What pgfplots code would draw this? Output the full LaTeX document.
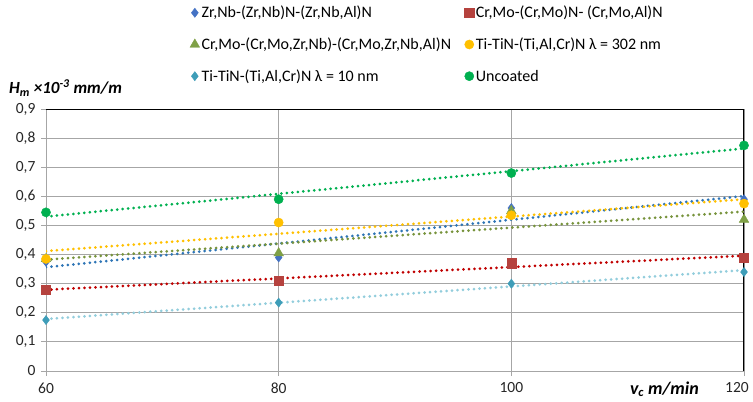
\documentclass[border=0pt]{standalone}
\usepackage{fontspec}
\setmainfont{Carlito}
\usepackage{pgfplots}
\pgfplotsset{compat=1.18}
\definecolor{cBlue}{HTML}{4472C4}
\definecolor{tBlue}{HTML}{2E75B6}
\definecolor{cRed}{HTML}{B5423E}
\definecolor{tRed}{HTML}{C00000}
\definecolor{cOlive}{HTML}{7FA046}
\definecolor{tOlive}{HTML}{77933C}
\definecolor{cYel}{HTML}{FFC000}
\definecolor{cTeal}{HTML}{3E9DB8}
\definecolor{tTeal}{HTML}{92CDDC}
\definecolor{cGreen}{HTML}{00B050}
\definecolor{gridc}{HTML}{A6A6A6}
\begin{document}
\begin{tikzpicture}
\begin{axis}[
  name=ax,
  scale only axis, width=698pt, height=262pt,
  xmin=60, xmax=120, ymin=0, ymax=0.9,
  xtick={60,80,100},
  extra x ticks={120},
  extra x tick style={grid=major, xticklabel style={xshift=-7pt}},
  ytick={0,0.1,0.2,0.3,0.4,0.5,0.6,0.7,0.8,0.9},
  grid=major, grid style={draw=gridc, line width=1pt},
  axis line style={draw=gridc, line width=1pt},
  tick style={draw=gridc, line width=1pt},
  tick align=outside, major tick length=5pt,
  xtick pos=left, ytick pos=left,
  /pgf/number format/.cd, use comma, fixed, precision=1, assume math mode=true,
  /pgfplots/.cd,
  ticklabel style={font=\fontsize{15.5}{18}\selectfont, text=black!85},
  xticklabel style={yshift=-3pt},
  yticklabel style={xshift=-2pt},
  xlabel={\textbf{\textit{v\textsubscript{c} m/min}}},
  xlabel style={font=\fontsize{18}{21}\selectfont, at={(rel axis cs:0.886,0)}, anchor=base, inner sep=0pt, yshift=-23pt},
  legend columns=2,
  legend cell align=left,
  legend style={draw=none, fill=none, at={(rel axis cs:0.206,1)}, anchor=south west, yshift=24pt,
    font=\fontsize{16}{18}\selectfont, row sep=14.5pt, inner sep=0pt},
  legend image code/.code={\draw[#1] plot coordinates {(0pt,0pt)};},
]
\draw[black, line width=1.3pt] (rel axis cs:0,1) -- (rel axis cs:1,1) -- (rel axis cs:1,0);
% trendlines
\addplot[forget plot, tBlue, line width=3pt, line cap=round, dash pattern=on 0pt off 5.5pt] coordinates {(60,0.3565) (120,0.601)};
\addplot[forget plot, tRed, line width=3pt, line cap=round, dash pattern=on 0pt off 5.5pt] coordinates {(60,0.279) (120,0.396)};
\addplot[forget plot, tOlive, line width=3pt, line cap=round, dash pattern=on 0pt off 5.5pt] coordinates {(60,0.3825) (120,0.5475)};
\addplot[forget plot, cYel, line width=3pt, line cap=round, dash pattern=on 0pt off 5.5pt] coordinates {(60,0.412) (120,0.590)};
\addplot[forget plot, tTeal, line width=3pt, line cap=round, dash pattern=on 0pt off 5.5pt] coordinates {(60,0.1785) (120,0.3465)};
\addplot[forget plot, cGreen, line width=3pt, line cap=round, dash pattern=on 0pt off 5.5pt] coordinates {(60,0.5305) (120,0.7645)};
% data
\addplot[only marks, mark=diamond*, mark size=4.6pt, color=cBlue] coordinates {(60,0.375) (80,0.39) (100,0.56) (120,0.59)};
\addlegendentry{\makebox[261pt][l]{Zr,Nb-(Zr,Nb)N-(Zr,Nb,Al)N}}
\addplot[only marks, mark=square*, mark size=4.6pt, color=cRed] coordinates {(60,0.28) (80,0.31) (100,0.37) (120,0.39)};
\addlegendentry{Cr,Mo-(Cr,Mo)N- (Cr,Mo,Al)N}
\addplot[only marks, mark=triangle*, mark size=5.6pt, color=cOlive] coordinates {(60,0.385) (80,0.405) (100,0.55) (120,0.52)};
\addlegendentry{\makebox[261pt][l]{Cr,Mo-(Cr,Mo,Zr,Nb)-(Cr,Mo,Zr,Nb,Al)N}}
\addplot[only marks, mark=*, mark size=4.6pt, color=cYel] coordinates {(60,0.385) (80,0.51) (100,0.535) (120,0.575)};
\addlegendentry{Ti-TiN-(Ti,Al,Cr)N λ = 302 nm}
\addplot[only marks, mark=diamond*, mark size=4.6pt, color=cTeal] coordinates {(60,0.175) (80,0.235) (100,0.30) (120,0.34)};
\addlegendentry{\makebox[261pt][l]{Ti-TiN-(Ti,Al,Cr)N λ = 10 nm}}
\addplot[only marks, mark=*, mark size=4.6pt, color=cGreen] coordinates {(60,0.545) (80,0.59) (100,0.68) (120,0.775)};
\addlegendentry{Uncoated}
\end{axis}
\node[anchor=base west, font=\fontsize{17}{20}\selectfont\bfseries\itshape, inner sep=0pt] at ([xshift=-37pt, yshift=15pt]ax.north west) {H\textsubscript{m} ×10\textsuperscript{-3} mm/m};
\pgfresetboundingbox
\path[use as bounding box] ([xshift=-46pt,yshift=-30pt]ax.south west) rectangle ([xshift=9pt,yshift=109pt]ax.north east);
\end{tikzpicture}
\end{document}
